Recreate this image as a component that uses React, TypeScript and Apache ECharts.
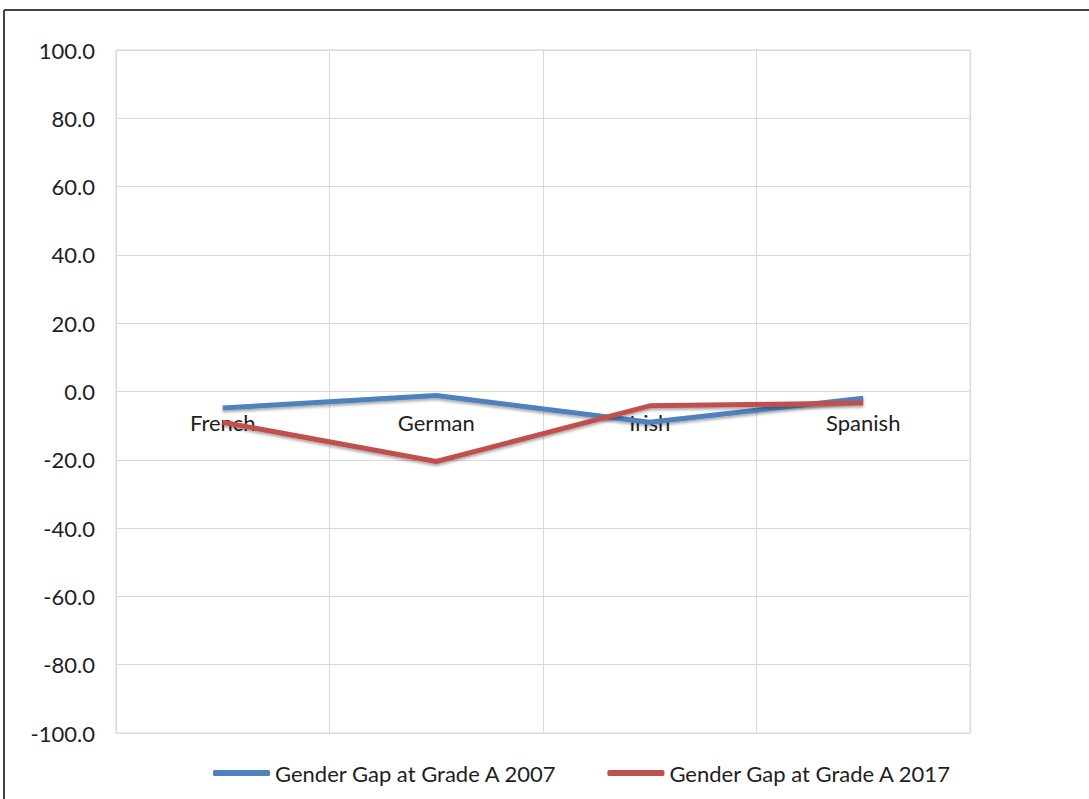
import React, { useEffect, useRef } from "react";
import * as echarts from "echarts";

const languages = ["French", "German", "Irish", "Spanish"];
const gap2007 = [-4.8, -1.2, -9.0, -2.0];
const gap2017 = [-9.0, -20.5, -4.2, -3.4];
const seriesNames = ["Gender Gap at Grade A 2007", "Gender Gap at Grade A 2017"];
const yMin = -100;
const yMax = 100;
const yStep = 20;

const FONT = "Lato, 'Open Sans', sans-serif";
const GRID_TOP = 50;
const GRID_BOTTOM = 66;
const HEIGHT = 799;

export default function App() {
  const ref = useRef<HTMLDivElement>(null);

  useEffect(() => {
    document.body.style.margin = "0";
    if (!ref.current) return;
    const chart = echarts.init(ref.current, null, { renderer: "svg" });
    const lineShadow = {
      shadowColor: "rgba(0,0,0,0.35)",
      shadowBlur: 3,
      shadowOffsetY: 2,
    };
    // lift the category axis from the bottom edge up to the zero line
    const plotH = HEIGHT - GRID_TOP - GRID_BOTTOM;
    const zeroFromBottom = (plotH * (0 - yMin)) / (yMax - yMin);

    chart.setOption({
      animation: false,
      backgroundColor: "#ffffff",
      textStyle: { fontFamily: FONT },
      grid: {
        left: 116,
        right: 119,
        top: GRID_TOP,
        bottom: GRID_BOTTOM,
        show: true,
        borderColor: "#d9d9d9",
        borderWidth: 1,
      },
      legend: {
        bottom: 10,
        left: 208,
        icon: "roundRect",
        itemWidth: 57,
        itemHeight: 6,
        itemGap: 50,
        textStyle: { fontSize: 22, color: "#1e1e1e", fontFamily: FONT },
        data: seriesNames,
      },
      xAxis: {
        type: "category",
        data: languages,
        boundaryGap: true,
        offset: -zeroFromBottom,
        axisLine: { show: false },
        axisTick: { show: false },
        axisLabel: { fontSize: 22, color: "#1e1e1e", margin: 20, fontFamily: FONT },
        splitLine: { show: true, lineStyle: { color: "#d9d9d9", width: 1 } },
      },
      yAxis: {
        type: "value",
        min: yMin,
        max: yMax,
        interval: yStep,
        axisLine: { show: false },
        axisTick: { show: false },
        axisLabel: {
          fontSize: 22,
          color: "#1e1e1e",
          margin: 21,
          fontFamily: FONT,
          formatter: (v: number) => v.toFixed(1),
        },
        splitLine: { show: true, lineStyle: { color: "#d9d9d9", width: 1 } },
      },
      graphic: [
        {
          type: "line",
          shape: { x1: 4, y1: 10, x2: 1089, y2: 10 },
          style: { stroke: "#444", lineWidth: 2 },
        },
        {
          type: "line",
          shape: { x1: 4, y1: 10, x2: 4, y2: 799 },
          style: { stroke: "#444", lineWidth: 2 },
        },
      ],
      series: [
        {
          name: seriesNames[0],
          type: "line",
          data: gap2007,
          symbol: "none",
          color: "#4F81BD",
          lineStyle: { width: 5, color: "#4F81BD", ...lineShadow },
        },
        {
          name: seriesNames[1],
          type: "line",
          data: gap2017,
          symbol: "none",
          color: "#C0504D",
          lineStyle: { width: 5, color: "#C0504D", ...lineShadow },
        },
      ],
    });
    return () => chart.dispose();
  }, []);

  return <div ref={ref} style={{ width: 1089, height: 799 }} />;
}
